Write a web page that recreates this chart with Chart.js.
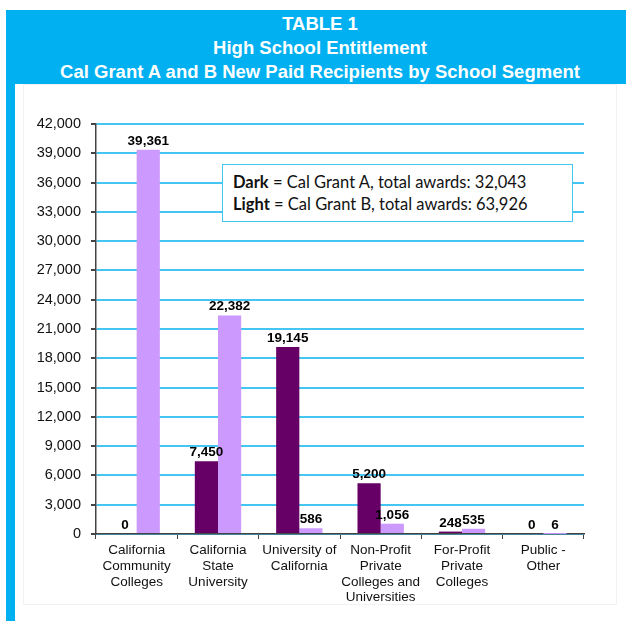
<!DOCTYPE html>
<html>
<head>
<meta charset="utf-8">
<script src="https://cdn.jsdelivr.net/npm/chart.js@4"></script>
<style>
  body { margin: 0; width: 626px; height: 621px; background: #fff; position: relative; overflow: hidden; font-family: "Liberation Sans", Arial, sans-serif; }
  #head { position: absolute; left: 6px; top: 10px; right: 0; height: 74px; background: #00B0F0; color: #fff; font-weight: bold; font-size: 18.5px; line-height: 24px; text-align: center; box-sizing: border-box; padding-top: 2px; padding-left: 8px; }
  #strip { position: absolute; left: 6px; top: 84px; width: 9px; bottom: 0; background: #00B0F0; }
  #frame { position: absolute; left: 23px; top: 84px; width: 594px; height: 521px; border: 1px solid #f2f2f2; box-sizing: border-box; }
  #wrap { position: absolute; left: 0; top: 84px; width: 626px; height: 537px; }
  #note { position: absolute; left: 222px; top: 164px; width: 351px; height: 58px; border: 1.5px solid #45C6F2; background: #fff; box-sizing: border-box; font-family: Lato, "Open Sans", sans-serif; font-size: 16.5px; color: #111; padding: 6px 0 0 10px; line-height: 22px; }
</style>
</head>
<body>
<div id="head">
  <div>TABLE 1</div>
  <div>High School Entitlement</div>
  <div>Cal Grant A and B New Paid Recipients by School Segment</div>
</div>
<div id="strip"></div>
<div id="frame"></div>
<div id="wrap"><canvas id="chart" width="626" height="537"></canvas></div>
<div id="note">
  <div><b>Dark</b> = Cal Grant A, total awards: 32,043</div>
  <div><b>Light</b> = Cal Grant B, total awards: 63,926</div>
</div>
<script>
// 학교 구분별 데이터
const segments = [
    ['California', 'Community', 'Colleges'],
    ['California', 'State', 'University'],
    ['University of', 'California'],
    ['Non-Profit', 'Private', 'Colleges and', 'Universities'],
    ['For-Profit', 'Private', 'Colleges'],
    ['Public -', 'Other']
];
const grantA = [0, 7450, 19145, 5200, 248, 0];
const grantB = [39361, 22382, 586, 1056, 535, 6];
const yTicks = [0, 3000, 6000, 9000, 12000, 15000, 18000, 21000, 24000, 27000, 30000, 33000, 36000, 39000, 42000];

// 막대 위 값 표시
const valueLabels = {
    id: 'valueLabels',
    afterDatasetsDraw(chart) {
        const ctx = chart.ctx;
        ctx.save();
        ctx.font = 'bold 13.5px "Liberation Sans", Arial, sans-serif';
        ctx.fillStyle = '#000';
        ctx.textAlign = 'center';
        ctx.textBaseline = 'bottom';
        chart.data.datasets.forEach(function(ds, i) {
            chart.getDatasetMeta(i).data.forEach(function(bar, j) {
                ctx.fillText(ds.data[j].toLocaleString('en-US'), bar.x, bar.y - 2);
            });
        });
        ctx.restore();
    }
};

new Chart(document.getElementById('chart').getContext('2d'), {
    type: 'bar',
    data: {
        labels: segments,
        datasets: [
            {
                label: 'Cal Grant A',
                data: grantA,
                backgroundColor: '#660066',
                categoryPercentage: 0.57,
                barPercentage: 1
            },
            {
                label: 'Cal Grant B',
                data: grantB,
                backgroundColor: '#CC99FF',
                categoryPercentage: 0.57,
                barPercentage: 1
            }
        ]
    },
    options: {
        responsive: false,
        animation: false,
        layout: { padding: { top: 40, right: 42, left: 0, bottom: 0 } },
        plugins: {
            legend: { display: false },
            tooltip: { enabled: false }
        },
        scales: {
            x: {
                grid: {
                    drawOnChartArea: false,
                    tickLength: 5,
                    tickColor: '#444'
                },
                border: { color: '#444', width: 1.5 },
                ticks: {
                    color: '#111',
                    font: { family: '"Liberation Sans", Arial, sans-serif', size: 13.5, lineHeight: 1.15 },
                    maxRotation: 0,
                    autoSkip: false,
                    padding: 4
                },
                afterFit: function(scale) { scale.height = 87; }
            },
            y: {
                min: 0,
                max: 42000,
                afterBuildTicks: function(scale) {
                    scale.ticks = yTicks.map(function(v) { return { value: v }; });
                },
                grid: {
                    color: '#45C6F2',
                    lineWidth: 2,
                    tickLength: 5,
                    tickColor: '#444'
                },
                border: { color: '#444', width: 1.5 },
                ticks: {
                    color: '#111',
                    font: { family: '"Liberation Sans", Arial, sans-serif', size: 14.5 },
                    padding: 10,
                    callback: function(v) { return v.toLocaleString('en-US'); }
                },
                afterFit: function(scale) { scale.width = 96; }
            }
        }
    },
    plugins: [valueLabels]
});
</script>
</body>
</html>
